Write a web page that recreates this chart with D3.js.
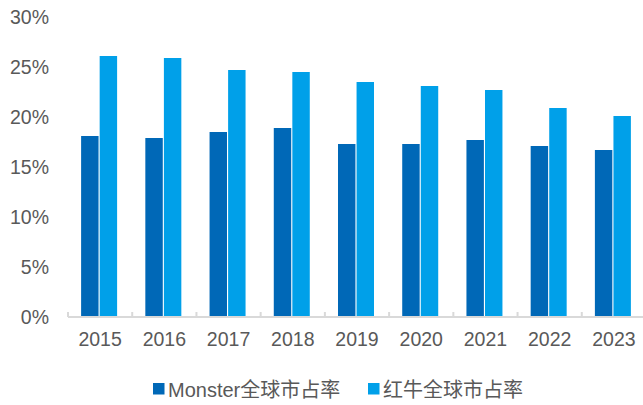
<!DOCTYPE html>
<html><head><meta charset="utf-8">
<script src="https://cdn.jsdelivr.net/npm/d3@7"></script>
<style>
html,body{margin:0;padding:0;background:#fff;}
svg{display:block;}
text{font-family:"Liberation Sans",Arial,"Noto Sans CJK SC",sans-serif;fill:#595959;}
</style></head>
<body>
<svg id="chart" width="643" height="405"></svg>
<script>
const years = ["2015","2016","2017","2018","2019","2020","2021","2022","2023"];
const seriesNames = ["Monster全球市占率","红牛全球市占率"];
const monster = [18.1, 17.9, 18.5, 18.9, 17.3, 17.3, 17.7, 17.1, 16.7];
const redbull = [26.1, 25.9, 24.7, 24.5, 23.5, 23.1, 22.7, 20.9, 20.1];
const yTicks = [0, 5, 10, 15, 20, 25, 30];
const colors = ["#0068B7", "#00A0E9"];

const svg = d3.select("#chart");
const mLeft = 68, mRight = 646, mTop = 17, mBottom = 317;

const x0 = d3.scaleBand().domain(years).range([mLeft, mRight]).padding(0);
const groupW = 36;
const x1 = d3.scaleBand().domain(seriesNames).range([0, groupW]).paddingInner(0.06);
const y = d3.scaleLinear().domain([0, 30]).range([mBottom, mTop]);

const data = [monster, redbull];

// bars
data.forEach((vals, si) => {
  svg.append("g").selectAll("rect").data(vals).join("rect")
    .attr("x", (d, i) => x0(years[i]) + (x0.bandwidth() - groupW) / 2 - 1 + x1(seriesNames[si]))
    .attr("y", d => y(d))
    .attr("width", x1.bandwidth())
    .attr("height", d => y(0) - y(d))
    .attr("fill", colors[si]);
});

// y axis labels
const yAxis = d3.axisLeft(y).tickValues(yTicks).tickFormat(d => d + "%").tickSize(0).tickPadding(19);
const gy = svg.append("g").attr("transform", `translate(${mLeft},0)`).call(yAxis);
gy.select(".domain").remove();
gy.selectAll("text").style("font-size", "19.5px").attr("fill", "#595959")
  .style("font-family", '"Liberation Sans",Arial,sans-serif');

// x axis
const xAxis = d3.axisBottom(x0).tickSize(0).tickPadding(15);
const gx = svg.append("g").attr("transform", `translate(0,${mBottom})`).call(xAxis);
gx.select(".domain").remove();
gx.selectAll("text").style("font-size", "19.5px").attr("fill", "#595959")
  .style("font-family", '"Liberation Sans",Arial,sans-serif');

// axis line and boundary ticks
svg.append("line").attr("x1", mLeft).attr("x2", mRight).attr("y1", mBottom).attr("y2", mBottom)
  .attr("stroke", "#d9d9d9").attr("stroke-width", 2);
const edges = years.map(d => x0(d)).concat([x0(years[years.length-1]) + x0.bandwidth()]);
svg.append("g").selectAll("line").data(edges).join("line")
  .attr("x1", d => d).attr("x2", d => d)
  .attr("y1", mBottom - 5).attr("y2", mBottom)
  .attr("stroke", "#d9d9d9").attr("stroke-width", 2);

// legend
const legendItems = [{x: 153, name: seriesNames[0], c: colors[0]}, {x: 368, name: seriesNames[1], c: colors[1]}];
const lg = svg.append("g");
legendItems.forEach(it => {
  lg.append("rect").attr("x", it.x).attr("y", 383).attr("width", 11.5).attr("height", 11.5).attr("fill", it.c);
  lg.append("text").attr("x", it.x + 15).attr("y", 391.5).attr("dominant-baseline", "middle")
    .style("font-size", "20px").text(it.name);
});
</script>
</body></html>
